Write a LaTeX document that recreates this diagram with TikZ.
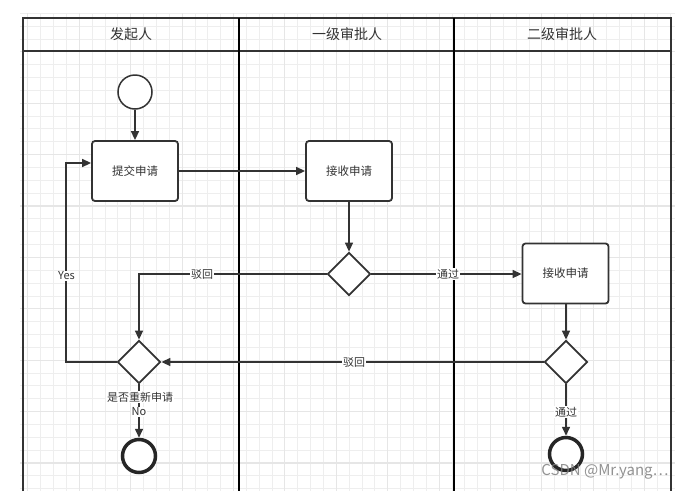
\documentclass[tikz,border=0pt]{standalone}
\usepackage{fontspec}
\setmainfont{Noto Sans CJK SC}
\usetikzlibrary{shapes.geometric,arrows.meta}
\definecolor{ink}{HTML}{333333}
\definecolor{gridmin}{HTML}{EEEEEE}
\definecolor{gridmaj}{HTML}{E6E6E6}
\tikzset{
  frameline/.style={draw=ink,line width=2pt},
  laneline/.style={draw=black,line width=2pt},
  hdr/.style={font=\fontsize{14}{16}\selectfont,text=ink},
  stepbox/.style={draw=ink,line width=1.8pt,rounded corners=3pt,fill=white,minimum width=86pt,minimum height=60pt,inner sep=0pt,font=\fontsize{11.5}{13}\selectfont,text=ink},
  decide/.style={diamond,draw=ink,line width=1.8pt,fill=white,minimum size=43pt,inner sep=0pt},
  startc/.style={circle,draw=ink,line width=1.5pt,fill=white,minimum size=34pt,inner sep=0pt},
  endc/.style={circle,draw=black!85,line width=3.5pt,fill=white,minimum size=33pt,inner sep=0pt},
  conn/.style={draw=ink,line width=1.5pt,-{Triangle[length=9pt,width=8pt]}},
  lbl/.style={fill=white,inner sep=0.8pt,font=\fontsize{11}{12}\selectfont,text=ink},
}
\begin{document}
\begin{tikzpicture}[x=1pt,y=-1pt]
\useasboundingbox (0,0) rectangle (685,491);
\fill[white] (0,0) rectangle (685,491);
% grid
\foreach \i in {0,...,50} \draw[gridmin,line width=0.9pt] (27.9+\i*12.85,13) -- (27.9+\i*12.85,491);
\foreach \k in {-2,...,35} \draw[gridmin,line width=0.9pt] (20,463-\k*12.85) -- (675,463-\k*12.85);
\foreach \i in {0,4,...,48} \draw[gridmaj,line width=1.1pt] (27.9+\i*12.85,13) -- (27.9+\i*12.85,491);
\foreach \k in {0,4,...,32} \draw[gridmaj,line width=1.1pt] (20,463-\k*12.85) -- (675,463-\k*12.85);
% swimlane frame
\draw[frameline] (23,491) -- (23,17.5) -- (670.5,17.5) -- (670.5,491);
\draw[frameline] (23,51) -- (670.5,51);
\draw[laneline] (239,17.5) -- (239,491);
\draw[laneline] (454,17.5) -- (454,491);
\node[hdr] (h1) at (131,34.5) {发起人};
\node[hdr] (h2) at (347,34.5) {一级审批人};
\node[hdr] (h3) at (562,34.5) {二级审批人};
% nodes
\node[startc] (start) at (135,92) {};
\node[stepbox] (b1) at (135,171) {提交申请};
\node[stepbox] (b2) at (349,171) {接收申请};
\node[stepbox] (b3) at (565.5,273.5) {接收申请};
\node[decide] (d1) at (349,274) {};
\node[decide] (d2) at (566,362) {};
\node[decide] (d3) at (139,362) {};
\node[endc] (e1) at (139,456) {};
\node[endc] (e2) at (566,454) {};
\coordinate (ya) at (66,163);
% connectors
\draw[conn] (start) -- (b1);
\draw[conn] (b1) -- (b2);
\draw[conn] (b2) -- (d1);
\draw[conn] (d1.east) -- (b3.west |- d1.east);
\draw[conn] (d1.west) -| (d3.north);
\draw[conn] (b3.south -| d2.north) -- (d2.north);
\draw[conn] (d2.west) -- (d3.east);
\draw[conn] (d2.south) -- (e2.north);
\draw[conn] (d3.south) -- (e1.north);
\draw[conn] (d3.west) -| (ya) -- (ya -| b1.west);
% labels
\node[lbl] (l1) at (202,274) {驳回};
\node[lbl] (l2) at (448,274) {通过};
\node[lbl] (l3) at (354,362) {驳回};
\node[lbl] (l4) at (566,412) {通过};
\node[lbl] (l5) at (66.5,276) {Yes};
\node[lbl] (l6) at (140,397) {是否重新申请};
\node[lbl] (l7) at (139,412) {No};
\node[font=\fontsize{15}{17}\selectfont,text=black!50,opacity=0.85] (wm) at (605,472) {CSDN @Mr.yang…};
\end{tikzpicture}
\end{document}
